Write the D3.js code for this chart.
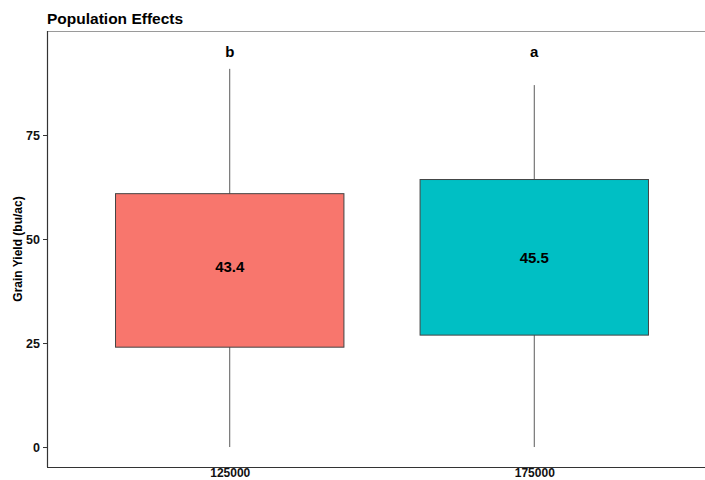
<!DOCTYPE html>
<html>
<head>
<meta charset="utf-8">
<script src="https://cdn.jsdelivr.net/npm/d3@7"></script>
<style>
  html, body { margin: 0; padding: 0; background: #ffffff; }
  svg { display: block; font-family: "Liberation Sans", Arial, sans-serif; }
</style>
</head>
<body>
<svg id="chart" width="705" height="480"></svg>
<script>
// Seeding population groups and their yield summaries (bu/ac)
const populations = ["125000", "175000"];
const whiskerLow = [0, 0];
const quartile1 = [24.0, 26.9];
const quartile3 = [60.9, 64.3];
const whiskerHigh = [90.9, 87.0];
const meanYield = [43.4, 45.5];
const groupLetters = ["b", "a"];
const yTicks = [0, 25, 50, 75];
const fills = ["#F8766D", "#00BFC4"];

const svg = d3.select("#chart");
const panel = { left: 47, right: 717, top: 31, bottom: 467 };

// discrete axis padded by 0.6 of a step on each side
const x = d3.scalePoint()
  .domain(populations)
  .range([panel.left, panel.right])
  .padding(0.6)
  .align(0.5);
const step = x.step();
const boxWidth = 0.75 * step;

const y = d3.scaleLinear().domain([-4.8, 100]).range([panel.bottom, panel.top]);

// top border of the panel
svg.append("line")
  .attr("x1", panel.left).attr("x2", 705)
  .attr("y1", panel.top + 0.5).attr("y2", panel.top + 0.5)
  .attr("stroke", "#9a9a9a").attr("stroke-width", 1.2);

const groups = populations.map((p, i) => ({
  p, lo: whiskerLow[i], q1: quartile1[i], q3: quartile3[i], hi: whiskerHigh[i],
  mean: meanYield[i], letter: groupLetters[i], fill: fills[i]
}));

const g = svg.append("g");

// whiskers
g.selectAll("line.whisker").data(groups).join("line")
  .attr("class", "whisker")
  .attr("x1", d => x(d.p)).attr("x2", d => x(d.p))
  .attr("y1", d => y(d.lo)).attr("y2", d => y(d.hi))
  .attr("stroke", "#5a5a5a").attr("stroke-width", 1);

// boxes
g.selectAll("rect.box").data(groups).join("rect")
  .attr("class", "box")
  .attr("x", d => x(d.p) - boxWidth / 2)
  .attr("width", boxWidth)
  .attr("y", d => y(d.q3))
  .attr("height", d => y(d.q1) - y(d.q3))
  .attr("fill", d => d.fill)
  .attr("stroke", "#444").attr("stroke-width", 1);

// mean labels
g.selectAll("text.mean").data(groups).join("text")
  .attr("class", "mean")
  .attr("x", d => x(d.p)).attr("y", d => y(d.mean))
  .attr("dy", "0.36em")
  .attr("text-anchor", "middle")
  .attr("font-size", 15).attr("font-weight", "bold").attr("fill", "#000")
  .text(d => d.mean.toFixed(1));

// significance letters
g.selectAll("text.letter").data(groups).join("text")
  .attr("class", "letter")
  .attr("x", d => x(d.p)).attr("y", y(95))
  .attr("dy", "0.36em")
  .attr("text-anchor", "middle")
  .attr("font-size", 15).attr("font-weight", "bold").attr("fill", "#000")
  .text(d => d.letter);

// y axis
const yAxis = svg.append("g")
  .attr("transform", `translate(${panel.left},0)`)
  .call(d3.axisLeft(y).tickValues(yTicks).tickSize(4).tickPadding(3));
yAxis.select(".domain").attr("d", `M0.5,${panel.top}V${panel.bottom}`)
  .attr("stroke", "#333").attr("stroke-width", 1.2);
yAxis.selectAll(".tick line").attr("stroke", "#333");
yAxis.selectAll(".tick text")
  .attr("font-size", 12.5).attr("font-weight", "bold").attr("fill", "#111")
  .attr("font-family", "Liberation Sans, Arial, sans-serif");

// x axis
const xAxis = svg.append("g")
  .attr("transform", `translate(0,${panel.bottom})`)
  .call(d3.axisBottom(x).tickSize(0).tickPadding(1.5));
xAxis.select(".domain").attr("d", `M${panel.left},0.5H${panel.right}`)
  .attr("stroke", "#333").attr("stroke-width", 1.2);
xAxis.selectAll(".tick text")
  .attr("font-size", 12).attr("font-weight", "bold").attr("fill", "#111")
  .attr("font-family", "Liberation Sans, Arial, sans-serif");

// y axis title
svg.append("text")
  .attr("transform", `translate(22,${(panel.top + panel.bottom) / 2}) rotate(-90)`)
  .attr("text-anchor", "middle")
  .attr("font-size", 12).attr("font-weight", "bold").attr("fill", "#000")
  .text("Grain Yield (bu/ac)");

// chart title
svg.append("text")
  .attr("x", 47).attr("y", 24)
  .attr("font-size", 15.5).attr("font-weight", "bold").attr("fill", "#000")
  .text("Population Effects");
</script>
</body>
</html>
